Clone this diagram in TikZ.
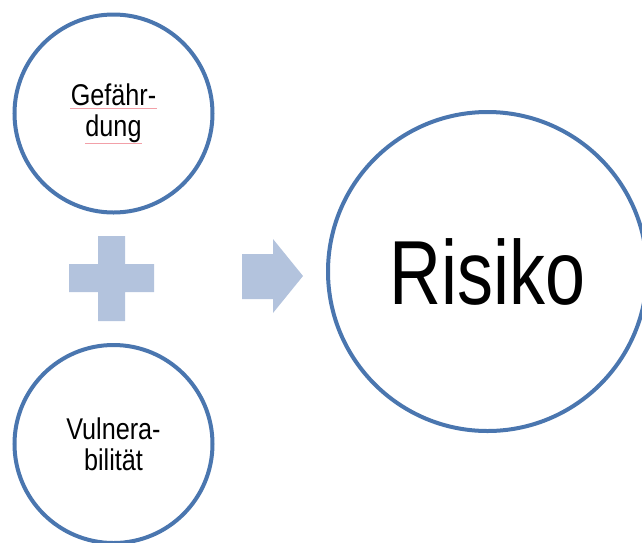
\documentclass[tikz,border=0pt]{standalone}
\usepackage{fontspec}
\setmainfont{Liberation Sans}
\newfontfamily\condfont[FakeStretch=0.84]{Liberation Sans}
\newfontfamily\bigfont[FakeStretch=0.79]{Liberation Sans}
\usepackage{tikz}
\usetikzlibrary{positioning}
\definecolor{ringblue}{HTML}{4A76AF}
\definecolor{shapeblue}{HTML}{B3C3DD}
\definecolor{typored}{HTML}{F2A0A8}
\tikzset{factor/.style={circle,draw=ringblue,line width=4pt,fill=white,minimum size=198pt,inner sep=0pt,
    align=center,font=\condfont\fontsize{30}{31}\selectfont},
    result/.style={circle,draw=ringblue,line width=4pt,fill=white,minimum size=319pt,inner sep=0pt,
    font=\bigfont\fontsize{91}{91}\selectfont},
    sign/.style={fill=shapeblue,draw=none},
    typo/.style={draw=typored,line width=0.8pt}}

\begin{document}
\begin{tikzpicture}[x=1pt,y=-1pt]

  \useasboundingbox (0,0) rectangle (642,542);

  % First we draw the two factors
  \foreach \pos/\name/\text in {{(113.5,113.5)/haz/Gef\"ahr-\\dung}, {(113.5,444)/vul/Vulnera-\\bilit\"at}}
    \node[factor] (\name) at \pos {\text};

  % and the result
  \node[result] (risk) at (487.5,271.5) {Risiko};

  % spell check marks under the first word
  \draw[typo] (70,108) -- (157,108);
  \draw[typo] (85,143) -- (142,143);

  % plus sign between the factors
  \path[sign] (98,236) -- (125,236) -- (125,264) -- (154,264) -- (154,292) -- (125,292)
    -- (125,321) -- (98,321) -- (98,292) -- (69,292) -- (69,264) -- (98,264) -- cycle;

  % block arrow towards the result
  \path[sign] (242,254) -- (273,254) -- (273,239) -- (303,276) -- (273,313) -- (273,299)
    -- (242,299) -- cycle;

\end{tikzpicture}
\end{document}
